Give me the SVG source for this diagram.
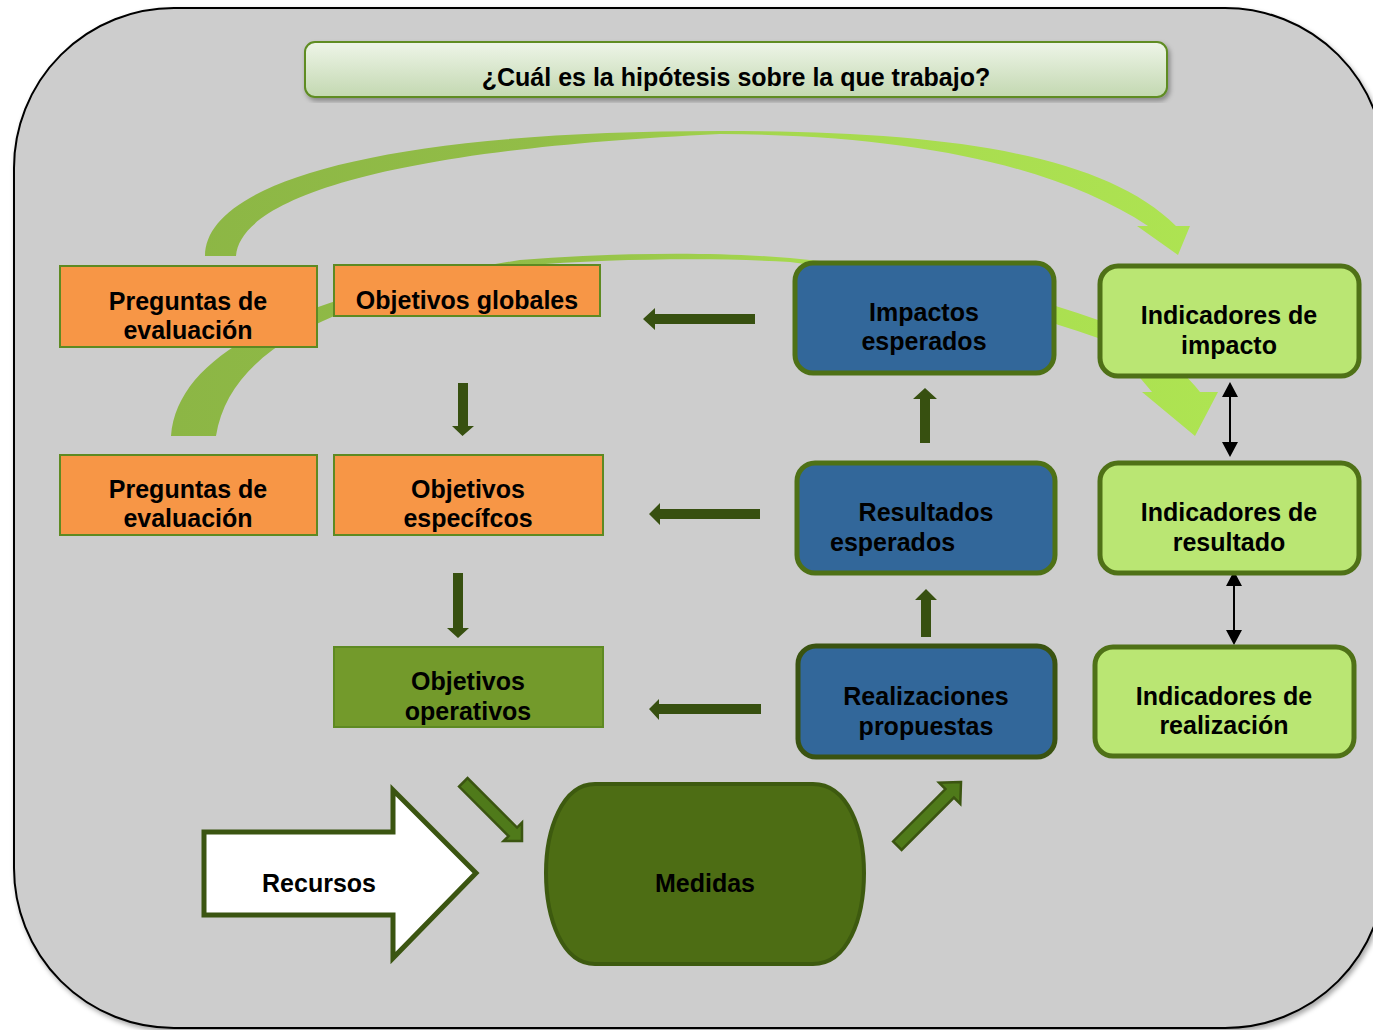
<svg xmlns="http://www.w3.org/2000/svg" width="1373" height="1030" viewBox="0 0 1373 1030">
<defs>
<style>
text{font-family:"Liberation Sans",Arial,sans-serif;font-weight:bold;font-size:25px;fill:#000;text-anchor:middle}
.orange{fill:#F79646;stroke:#5E8A22;stroke-width:2}
.oper{fill:#739A2B;stroke:#5E8A22;stroke-width:2}
.blue{fill:#32679A;stroke:#4E7116;stroke-width:5}
.blue2{fill:#32679A;stroke:#3A5311;stroke-width:5}
.ind{fill:#BAE673;stroke:#4F7117;stroke-width:5}
.darr{fill:#375010}
.diag{fill:#4F7A1A;stroke:#3B5511;stroke-width:2.5}
.dbl{stroke:#000;stroke-width:2;fill:none;marker-start:url(#tipB);marker-end:url(#tipB)}
</style>
<marker id="tipB" viewBox="0 0 15 16" refX="13" refY="8" markerWidth="15" markerHeight="16" markerUnits="userSpaceOnUse" orient="auto-start-reverse">
<path d="M0,0 L15,8 L0,16 Z" fill="#000"/>
</marker>
<linearGradient id="titleGrad" x1="0" y1="0" x2="0" y2="1">
<stop offset="0" stop-color="#EEF5E8"/>
<stop offset="1" stop-color="#C3D8B1"/>
</linearGradient>
<linearGradient id="arcGrad" gradientUnits="userSpaceOnUse" x1="170" y1="0" x2="1220" y2="0">
<stop offset="0" stop-color="#8CB645"/>
<stop offset="0.35" stop-color="#92BD47"/>
<stop offset="0.6" stop-color="#A6D94E"/>
<stop offset="1" stop-color="#AEE452"/>
</linearGradient>
<filter id="shadow" x="-5%" y="-5%" width="110%" height="115%">
<feDropShadow dx="2" dy="3" stdDeviation="2.5" flood-color="#000" flood-opacity="0.35"/>
</filter>
</defs>

<g id="background">
<rect x="14" y="8" width="1371" height="1020" rx="160" ry="160" fill="#CDCDCD" stroke="#000" stroke-width="2" filter="url(#shadow)"/>
</g>

<g id="title">
<rect x="305" y="42" width="862" height="55" rx="10" ry="10" fill="url(#titleGrad)" stroke="#5E8C22" stroke-width="2" filter="url(#shadow)"/>
<text x="736" y="86">¿Cuál es la hipótesis sobre la que trabajo?</text>
</g>

<g id="connectors">
<!-- curved arrow 1: Preguntas de evaluación -> Indicadores de impacto -->
<path fill="url(#arcGrad)" d="M205,256 C205,185 370,131 720,131 C930,131 1100,150 1176,226 L1190,226 L1178,255 L1137,226 L1148,226 C1060,168 920,135 720,134 C380,150 240,200 236,256 Z"/>
<!-- curved arrow 2: Preguntas de evaluación -> Indicadores de resultado -->
<path fill="url(#arcGrad)" d="M171,436 C178,350 300,295 520,260 C620,252 720,252 790,258 C900,268 1000,285 1098,320 C1140,338 1175,360 1200,392 L1218,392 L1195,436 L1142,392 L1152,392 C1130,365 1110,345 1098,338 C1000,305 900,275 790,262 C720,258 620,258 520,266 C330,300 230,350 216,436 Z"/>
<!-- left arrows -->
<polygon class="darr" points="643,319 655,308 655,314 755,314 755,324 655,324 655,330"/>
<polygon class="darr" points="649,514 660,503 660,509 760,509 760,519 660,519 660,525"/>
<polygon class="darr" points="649,709 659,699 659,704 761,704 761,714 659,714 659,720"/>
<!-- down arrows -->
<polygon class="darr" points="462.5,436 474,426 468,426 468,383 458,383 458,426 452,426"/>
<polygon class="darr" points="458,638 469,628 463,628 463,573 453,573 453,628 447,628"/>
<!-- up arrows -->
<polygon class="darr" points="925,388 937,399 930,399 930,443 920,443 920,399 913,399"/>
<polygon class="darr" points="926,589 937,600 931,600 931,637 921,637 921,600 915,600"/>
<!-- diagonal arrows -->
<path class="diag" transform="translate(522,841) rotate(45)" d="M0,0 L-13,-13 L-13,-6 L-83,-6 L-83,6 L-13,6 L-13,13 Z"/>
<path class="diag" transform="translate(961,782) rotate(-45)" d="M0,0 L-16,-15 L-16,-6 L-90,-6 L-90,6 L-16,6 L-16,15 Z"/>
<!-- double arrows -->
<line class="dbl" x1="1230" y1="384" x2="1230" y2="455"/>
<line class="dbl" x1="1234" y1="573" x2="1234" y2="643"/>
</g>

<g id="preguntas1">
<rect class="orange" x="60" y="266" width="257" height="81"/>
<text x="188" y="310">Preguntas de</text>
<text x="188" y="339">evaluación</text>
</g>
<g id="objetivos-globales">
<rect class="orange" x="334" y="265" width="266" height="51"/>
<text x="467" y="309">Objetivos globales</text>
</g>
<g id="preguntas2">
<rect class="orange" x="60" y="455" width="257" height="80"/>
<text x="188" y="498">Preguntas de</text>
<text x="188" y="527">evaluación</text>
</g>
<g id="objetivos-especificos">
<rect class="orange" x="334" y="455" width="269" height="80"/>
<text x="468" y="498">Objetivos</text>
<text x="468" y="527">específcos</text>
</g>
<g id="objetivos-operativos">
<rect class="oper" x="334" y="647" width="269" height="80"/>
<text x="468" y="690">Objetivos</text>
<text x="468" y="720">operativos</text>
</g>

<g id="impactos">
<rect class="blue" x="795" y="263" width="259" height="110" rx="18" ry="18"/>
<text x="924" y="321">Impactos</text>
<text x="924" y="350">esperados</text>
</g>
<g id="resultados">
<rect class="blue" x="797" y="463" width="258" height="110" rx="18" ry="18"/>
<text x="926" y="521">Resultados</text>
<text x="830" y="551" style="text-anchor:start">esperados</text>
</g>
<g id="realizaciones">
<rect class="blue2" x="798" y="646" width="257" height="111" rx="18" ry="18"/>
<text x="926" y="705">Realizaciones</text>
<text x="926" y="735">propuestas</text>
</g>

<g id="ind-impacto">
<rect class="ind" x="1100" y="266" width="259" height="110" rx="18" ry="18"/>
<text x="1229" y="324">Indicadores de</text>
<text x="1229" y="354">impacto</text>
</g>
<g id="ind-resultado">
<rect class="ind" x="1100" y="463" width="259" height="110" rx="18" ry="18"/>
<text x="1229" y="521">Indicadores de</text>
<text x="1229" y="551">resultado</text>
</g>
<g id="ind-realizacion">
<rect class="ind" x="1095" y="647" width="259" height="109" rx="18" ry="18"/>
<text x="1224" y="705">Indicadores de</text>
<text x="1224" y="734">realización</text>
</g>

<g id="recursos">
<path d="M204,832 L393,832 L393,790 L476,873 L393,958 L393,915 L204,915 Z" fill="#FFFFFF" stroke="#3B5511" stroke-width="5" stroke-linejoin="miter"/>
<text x="319" y="892">Recursos</text>
</g>

<g id="medidas">
<path d="M595,784 L813,784 C848,784 864,830 864,873 C864,918 848,964 813,964 L595,964 C562,964 546,918 546,873 C546,830 562,784 595,784 Z" fill="#4D6D14" stroke="#3D5A0F" stroke-width="4"/>
<text x="705" y="892">Medidas</text>
</g>
</svg>
